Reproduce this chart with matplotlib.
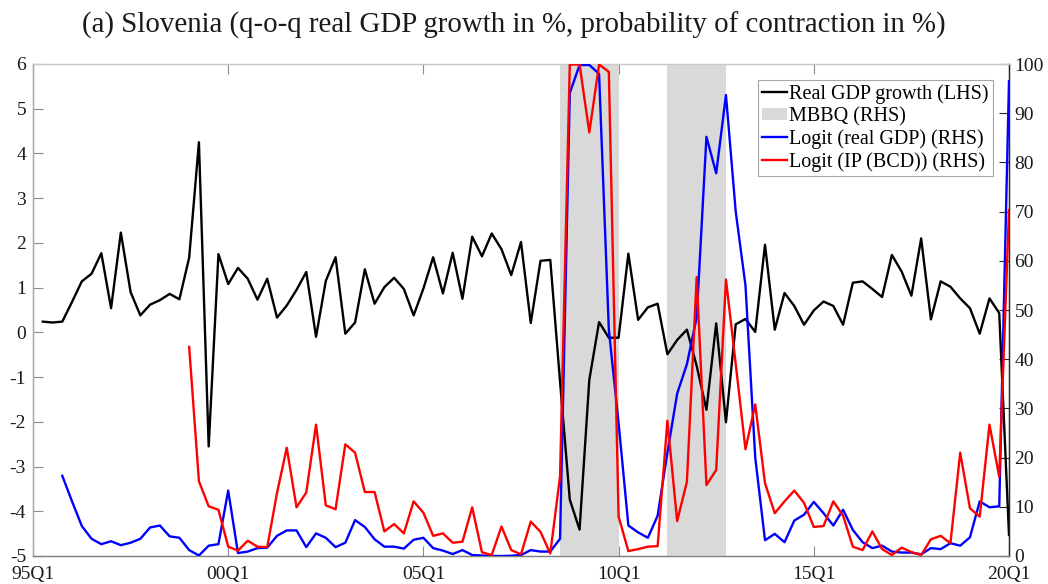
import numpy as np
import matplotlib
matplotlib.use('Agg')
import matplotlib.pyplot as plt
from matplotlib.patches import Patch
from matplotlib.lines import Line2D

plt.rcParams['font.family'] = ['Liberation Serif', 'DejaVu Serif']
plt.rcParams['axes.unicode_minus'] = False

# ---- data -------------------------------------------------------------
tick_labels = ['95Q1', '00Q1', '05Q1', '10Q1', '15Q1', '20Q1']

# q-o-q real GDP growth in %, 95Q2 .. 20Q1
gdp_start = '95Q2'
gdp_growth = [
    0.24, 0.22, 0.24, 0.68, 1.14, 1.31, 1.77, 0.54, 2.23, 0.90,
    0.38, 0.62, 0.72, 0.86, 0.74, 1.67, 4.25, -2.55, 1.75, 1.08,
    1.44, 1.20, 0.73, 1.20, 0.33, 0.60, 0.95, 1.35, -0.10, 1.15,
    1.68, -0.03, 0.22, 1.41, 0.64, 1.01, 1.22, 0.97, 0.38, 0.98,
    1.68, 0.87, 1.78, 0.75, 2.14, 1.70, 2.21, 1.86, 1.28, 2.02,
    0.21, 1.60, 1.62, -1.10, -3.74, -4.41, -1.06, 0.23, -0.12, -0.12,
    1.76, 0.28, 0.56, 0.64, -0.49, -0.17, 0.06, -0.75, -1.73, 0.20,
    -2.01, 0.18, 0.30, 0.01, 1.96, 0.06, 0.88, 0.59, 0.17, 0.49,
    0.69, 0.59, 0.17, 1.11, 1.14, 0.97, 0.79, 1.73, 1.36, 0.82,
    2.10, 0.29, 1.14, 1.02, 0.76, 0.54, -0.03, 0.76, 0.43, -4.53,
]

# probability of contraction (logit on real GDP) in %, 95Q4 .. 20Q1
logit_gdp_start = '95Q4'
logit_gdp = [
    16.3, 11.1, 6.1, 3.5, 2.4, 3.0, 2.2, 2.7, 3.5, 5.8,
    6.2, 4.0, 3.7, 1.2, 0.1, 2.1, 2.4, 13.3, 0.6, 0.9,
    1.6, 1.7, 4.1, 5.2, 5.2, 1.8, 4.6, 3.7, 1.8, 2.7,
    7.3, 5.9, 3.4, 1.9, 1.9, 1.5, 3.3, 3.7, 1.6, 1.1,
    0.4, 1.2, 0.2, 0.1, 0.0, 0.0, 0.05, 0.2, 1.2, 0.9,
    0.9, 3.5, 94.1, 99.8, 99.8, 98.0, 46.0, 27.0, 6.2, 4.8,
    3.7, 8.2, 21.0, 33.0, 39.0, 48.5, 85.2, 77.8, 93.7, 70.0,
    55.0, 20.0, 3.2, 4.5, 2.8, 7.2, 8.4, 11.0, 8.7, 6.2,
    9.4, 5.3, 2.8, 1.6, 2.1, 0.9, 0.7, 0.7, 0.35, 1.6,
    1.4, 2.6, 2.1, 3.8, 11.1, 9.9, 10.1, 96.5,
]

# probability of contraction (logit on IP, BCD dating) in %, 99Q1 .. 20Q1
logit_ip_start = '99Q1'
logit_ip = [
    42.5, 15.2, 10.1, 9.4, 1.9, 1.1, 3.1, 1.9, 1.8, 12.8,
    22.0, 9.9, 12.9, 26.7, 10.3, 9.5, 22.7, 21.0, 13.0, 13.0,
    5.0, 6.5, 4.6, 11.1, 8.8, 4.1, 4.6, 2.7, 2.9, 9.9,
    0.75, 0.2, 6.0, 1.2, 0.35, 7.0, 4.9, 0.5, 16.2, 99.9,
    99.9, 86.1, 99.9, 98.4, 8.0, 1.0, 1.4, 1.9, 2.0, 27.5,
    7.1, 15.1, 56.7, 14.4, 17.5, 56.2, 39.0, 21.7, 30.8, 14.8,
    8.7, 11.1, 13.3, 10.8, 5.9, 6.1, 11.1, 8.2, 1.9, 1.2,
    5.0, 1.4, 0.2, 1.7, 0.8, 0.2, 3.4, 4.1, 2.6, 21.0,
    9.7, 8.0, 26.7, 16.1, 70.3,
]

# MBBQ contraction phases (shaded, RHS = 100 %)
mbbq_start = ['08Q3', '11Q2']
mbbq_end = ['10Q1', '12Q4']
mbbq_level = 100


def qindex(label):
    """Quarters elapsed since 1995Q1 for a 'YYQn' label."""
    yy, q = int(label[:2]), int(label[3])
    year = 1900 + yy if yy >= 50 else 2000 + yy
    return (year - 1995) * 4 + (q - 1)


def positions(start, values):
    s = qindex(start)
    return np.arange(s, s + len(values))


# ---- figure -----------------------------------------------------------
W, H = 1048, 584
fig = plt.figure(figsize=(W / 100, H / 100), dpi=100)
ax = fig.add_axes([33 / W, 1 - 556 / H, 976 / W, 492 / H])
ax2 = ax.twinx()

text_col = '#1a1a1a'
fs_tick = 14
fs_leg = 14.5

ax.set_xlim(qindex(tick_labels[0]), qindex(tick_labels[-1]))
ax.set_ylim(-5, 6)
ax2.set_ylim(0, 100)

# shaded MBBQ phases
starts = np.array([qindex(s) for s in mbbq_start])
ends = np.array([qindex(e) for e in mbbq_end])
ax2.bar(starts, [mbbq_level] * len(starts), width=ends - starts,
        align='edge', color='#d9d9d9', edgecolor='none', zorder=1)

# GDP growth drawn in the LHS scale, beneath the probability lines
ax2.plot(positions(gdp_start, gdp_growth), gdp_growth, color='black',
         lw=1.7, transform=ax.transData, zorder=2, clip_on=True)
ax2.plot(positions(logit_gdp_start, logit_gdp), logit_gdp, color='#0000ff',
         lw=1.7, zorder=3)
ax2.plot(positions(logit_ip_start, logit_ip), logit_ip, color='#ff0000',
         lw=1.7, zorder=4)
ax2.set_ylim(0, 100)
ax2.set_xlim(qindex(tick_labels[0]), qindex(tick_labels[-1]))

# ticks
ax.set_xticks([qindex(t) for t in tick_labels])
ax.set_xticklabels(tick_labels)
ax.set_yticks(np.arange(-5, 7, 1))
ax2.set_yticks(np.arange(0, 101, 10))

ax.tick_params(axis='x', direction='in', length=7, width=0.8, color='#8c8c8c',
               labelsize=fs_tick, labelcolor=text_col, top=True, pad=7)
ax.tick_params(axis='y', direction='in', length=7, width=0.8, color='#8c8c8c',
               labelsize=fs_tick, labelcolor=text_col, pad=5)
ax2.tick_params(axis='y', direction='in', length=7, width=0.8, color='#262626',
                labelsize=fs_tick, labelcolor=text_col, pad=4)

for a in (ax, ax2):
    a.spines['left'].set_color('#a6a6a6')
    a.spines['bottom'].set_color('#808080')
    a.spines['top'].set_color('#c8c8c8')
    a.spines['right'].set_color('#262626')
    for s in a.spines.values():
        s.set_linewidth(0.9)

# legend
handles = [
    Line2D([], [], color='black', lw=1.7),
    Patch(facecolor='#d9d9d9', edgecolor='none'),
    Line2D([], [], color='#0000ff', lw=1.7),
    Line2D([], [], color='#ff0000', lw=1.7),
]
labels = ['Real GDP growth (LHS)', 'MBBQ (RHS)',
          'Logit (real GDP) (RHS)', 'Logit (IP (BCD)) (RHS)']
leg = ax2.legend(handles, labels, loc='upper right', fontsize=fs_leg,
                 frameon=True, fancybox=False, framealpha=1,
                 edgecolor='#a6a6a6', borderpad=0.2, labelspacing=0.15,
                 handlelength=1.25, handletextpad=0.12, handleheight=0.6,
                 borderaxespad=0.8)
leg.get_frame().set_linewidth(0.8)
leg.set_zorder(10)

fig.text(514 / W, 1 - 25 / H,
         '(a) Slovenia (q-o-q real GDP growth in %, probability of contraction in %)',
         ha='center', va='center', fontsize=20.8, color=text_col)

fig.savefig('out.png', dpi=100)
